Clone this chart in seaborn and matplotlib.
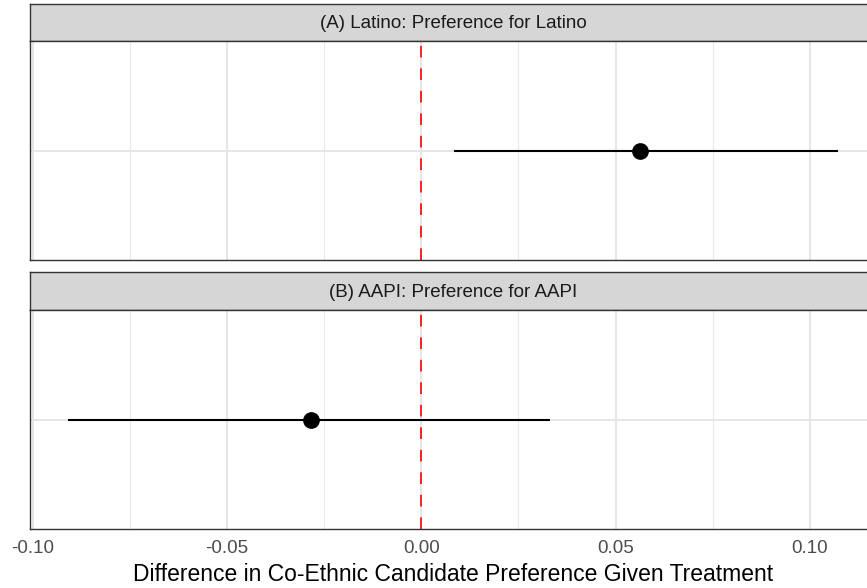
import matplotlib
matplotlib.use("Agg")
import matplotlib.pyplot as plt
from matplotlib.ticker import MultipleLocator
import pandas as pd
import seaborn as sns

# Estimates with 95% intervals for each subgroup
panels = ["(A) Latino: Preference for Latino", "(B) AAPI: Preference for AAPI"]
estimates = [0.0563, -0.0284]
ci_lower = [0.0085, -0.0908]
ci_upper = [0.1071, 0.0330]
x_ticks = [-0.10, -0.05, 0.00, 0.05, 0.10]
x_tick_labels = ["-0.10", "-0.05", "0.00", "0.05", "0.10"]
x_label = "Difference in Co-Ethnic Candidate Preference Given Treatment"

df = pd.DataFrame({
    "panel": panels,
    "estimate": estimates,
    "lower": ci_lower,
    "upper": ci_upper,
})

sns.set_style("white")
plt.rcParams["font.family"] = ["Liberation Sans", "DejaVu Sans"]

W, H = 867, 588
fig = plt.figure(figsize=(W / 100, H / 100), dpi=100)

def frac_box(left, top, right, bottom):
    return [left / W, (H - bottom) / H, (right - left) / W, (bottom - top) / H]

# span of the data plus 5% padding on each side
span = max(ci_upper) - min(ci_lower)
xlim = (min(ci_lower) - 0.05 * span, max(ci_upper) + 0.05 * span)

layout = [
    # (strip top, strip bottom / panel top, panel bottom)
    (4, 41, 260),
    (272, 310, 529),
]
panel_left, panel_right = 30, 876
border = "#333333"

for i, (s_top, p_top, p_bot) in enumerate(layout):
    sub = df.iloc[[i]]

    # facet strip
    sax = fig.add_axes(frac_box(panel_left, s_top, panel_right, p_top))
    sax.set_facecolor("#D6D6D6")
    sax.set_xticks([])
    sax.set_yticks([])
    for sp in sax.spines.values():
        sp.set_color(border)
        sp.set_linewidth(1.0)
    sax.text(0.5, 0.47, sub["panel"].iloc[0], ha="center", va="center",
             fontsize=13.5, color="#1A1A1A", transform=sax.transAxes)

    ax = fig.add_axes(frac_box(panel_left, p_top, panel_right, p_bot))
    ax.set_facecolor("white")
    ax.set_xlim(*xlim)
    ax.set_ylim(-0.6, 0.6)

    ax.xaxis.set_major_locator(MultipleLocator(0.05))
    ax.xaxis.set_minor_locator(MultipleLocator(0.025))
    ax.grid(which="major", axis="both", color="#E6E6E6", linewidth=1.4, zorder=0)
    ax.grid(which="minor", axis="x", color="#E9E9E9", linewidth=0.8, zorder=0)
    ax.set_axisbelow(True)

    ax.axvline(0, color="red", linewidth=1.2, linestyle=(0, (7, 6.5)), zorder=2)
    ax.hlines(y=[0], xmin=sub["lower"], xmax=sub["upper"], color="black",
              linewidth=1.5, zorder=3)
    sns.scatterplot(x=sub["estimate"].values, y=[0], ax=ax, color="black",
                    s=145, linewidth=0, zorder=4, legend=False)

    ax.set_yticks([0])
    ax.set_yticklabels([""])
    ax.tick_params(axis="y", length=4, width=1.0, color=border)
    ax.set_xticks(x_ticks)
    if i == len(layout) - 1:
        ax.set_xticklabels(x_tick_labels, fontsize=13.5, color="#4D4D4D")
        ax.tick_params(axis="x", which="major", length=4, width=1.0,
                       color=border, pad=4)
        ax.tick_params(axis="x", which="minor", length=0)
        ax.set_xlabel(x_label, fontsize=16.5, color="black", labelpad=4)
    else:
        ax.set_xticklabels([])
        ax.tick_params(axis="x", which="both", length=0)
        ax.set_xlabel("")
    ax.set_ylabel("")
    for sp in ax.spines.values():
        sp.set_color(border)
        sp.set_linewidth(1.0)
        sp.set_visible(True)

fig.savefig("out.png", dpi=100)
